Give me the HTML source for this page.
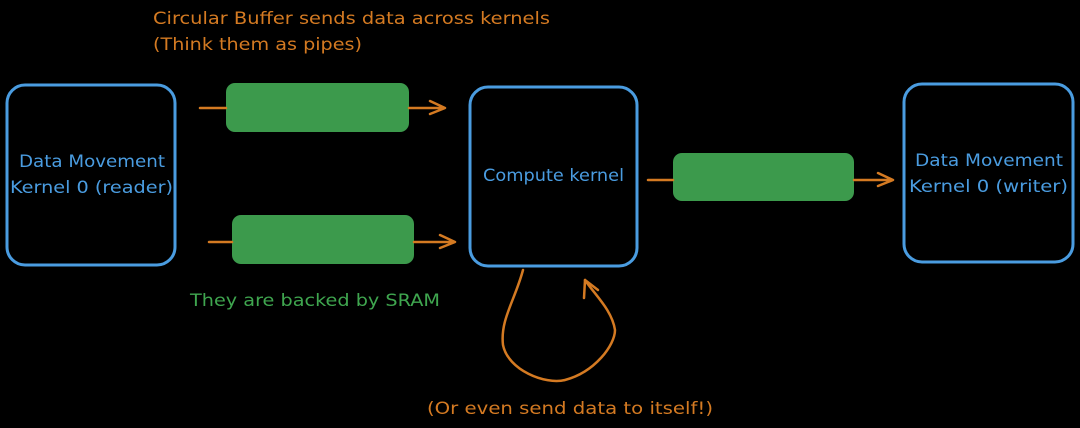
<!DOCTYPE html>
<html><head><style>body{margin:0;background:#000}</style></head><body>
<svg width="1080" height="428" viewBox="0 0 1080 428" xmlns="http://www.w3.org/2000/svg" style="display:block;background:#000">
<g fill="none" stroke="#4a9ce0" stroke-width="3">
<rect x="7" y="85" width="168" height="180" rx="18"/>
<rect x="470" y="87" width="167" height="179" rx="18"/>
<rect x="904" y="84" width="169" height="178" rx="18"/>
</g>
<g fill="#3c9a4c">
<rect x="226" y="83" width="183" height="49" rx="9"/>
<rect x="232" y="215" width="182" height="49" rx="9"/>
<rect x="673" y="153" width="181" height="48" rx="9"/>
</g>
<g fill="none" stroke="#d47a22" stroke-width="2.5" stroke-linecap="round" stroke-linejoin="round">
<path d="M200 108H226M409 108H443M430 101L445 108L430 114"/>
<path d="M209 242H232M414 242H453M440 235L455 242L440 248"/>
<path d="M648 180H673M854 180H891M878 173L893 180L878 186"/>
<path d="M523 270C515 300 500 320 503 345C508 370 545 385 565 380C595 372 615 345 615 330C612 310 595 295 585 280"/>
<path d="M584 298L585 280L598 290"/>
</g>
<g font-family="'DejaVu Sans',sans-serif" font-size="17" lengthAdjust="spacingAndGlyphs">
<text x="153" y="24" fill="#d47a22" textLength="397" lengthAdjust="spacingAndGlyphs">Circular Buffer sends data across kernels</text>
<text x="153" y="50" fill="#d47a22" textLength="209" lengthAdjust="spacingAndGlyphs">(Think them as pipes)</text>
<text x="190" y="306" fill="#3fa64f" textLength="250" lengthAdjust="spacingAndGlyphs">They are backed by SRAM</text>
<text x="427" y="414" fill="#d47a22" textLength="286" lengthAdjust="spacingAndGlyphs">(Or even send data to itself!)</text>
<g fill="#4a9ce0">
<text x="19" y="167" textLength="146" lengthAdjust="spacingAndGlyphs">Data Movement</text>
<text x="10" y="193" textLength="163" lengthAdjust="spacingAndGlyphs">Kernel 0 (reader)</text>
<text x="483" y="181" textLength="141" lengthAdjust="spacingAndGlyphs">Compute kernel</text>
<text x="915" y="166" textLength="148" lengthAdjust="spacingAndGlyphs">Data Movement</text>
<text x="909" y="192" textLength="159" lengthAdjust="spacingAndGlyphs">Kernel 0 (writer)</text>
</g></g>
</svg>
</body></html>
